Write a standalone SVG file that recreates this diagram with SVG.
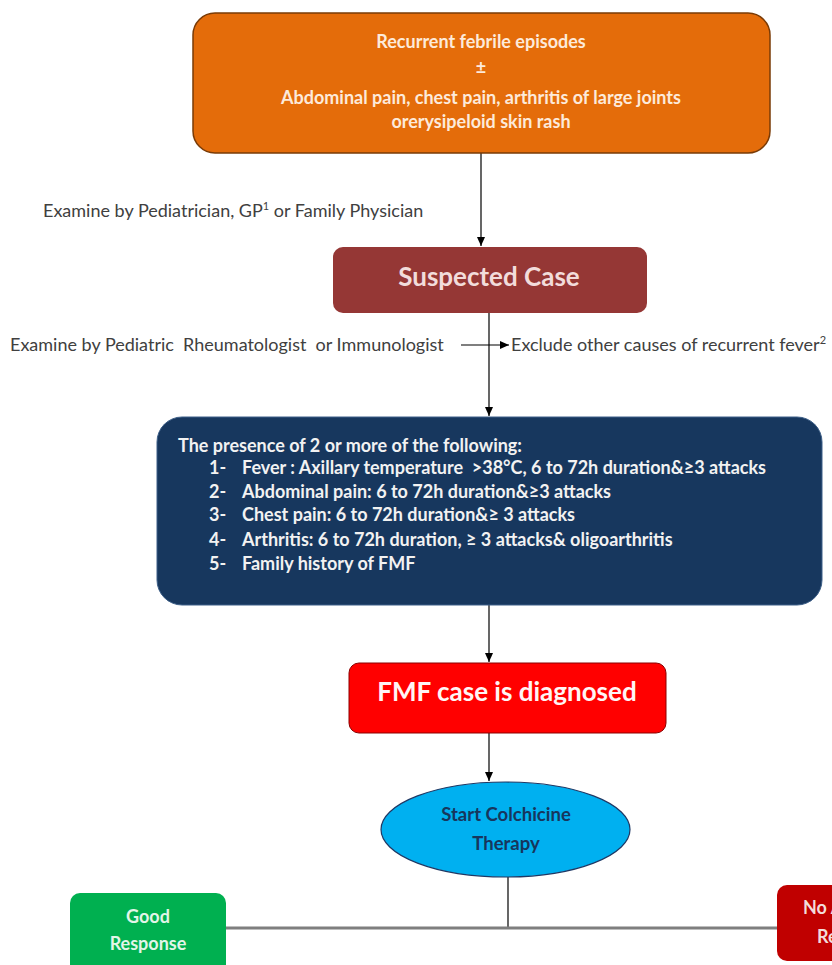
<svg xmlns="http://www.w3.org/2000/svg" width="832" height="965" viewBox="0 0 832 965">
<style>
text{font-family:Lato,"Liberation Sans",sans-serif;white-space:pre}
.lbl{font-size:18px;fill:#404040}
.b{font-weight:bold}
.c{text-anchor:middle}
.conn{stroke:#000;stroke-width:1.2;fill:none}
</style>
<defs>
<marker id="ah" markerUnits="userSpaceOnUse" markerWidth="10" markerHeight="10" refX="9" refY="4" orient="auto">
<path d="M0,0 L9,4 L0,8 Z" fill="#000"/>
</marker>
</defs>
<rect width="832" height="965" fill="#fff"/>
<g id="connectors">
<line class="conn" x1="481" y1="153" x2="481" y2="246" marker-end="url(#ah)"/>
<line class="conn" x1="489" y1="313" x2="489" y2="416" marker-end="url(#ah)"/>
<line class="conn" x1="461" y1="345" x2="509" y2="345" marker-end="url(#ah)"/>
<line class="conn" x1="489" y1="605" x2="489" y2="662" marker-end="url(#ah)"/>
<line class="conn" x1="489" y1="733" x2="489" y2="781" marker-end="url(#ah)"/>
<line class="conn" x1="508" y1="877" x2="508" y2="928"/>
<line x1="225" y1="928" x2="777" y2="928" stroke="#7f7f7f" stroke-width="3"/>
</g>
<g id="label-gp">
<text class="lbl" x="43" y="217">Examine by Pediatrician, GP<tspan font-size="11" dy="-7">1</tspan><tspan dy="7"> or Family Physician</tspan></text>
</g>
<g id="label-rheum">
<text class="lbl" x="10" y="351">Examine by Pediatric  Rheumatologist  or Immunologist</text>
</g>
<g id="label-exclude">
<text class="lbl" x="511" y="351">Exclude other causes of recurrent fever<tspan font-size="11" dy="-7">2</tspan></text>
</g>
<g id="n-symptoms">
<rect x="193" y="13" width="577" height="140" rx="22" fill="#e46c0a" stroke="#7a3b06" stroke-width="1.5"/>
<g class="b c" font-size="18" fill="#fdeada">
<text x="481" y="48">Recurrent febrile episodes</text>
<text x="481" y="74">±</text>
<text x="481" y="104">Abdominal pain, chest pain, arthritis of large joints</text>
<text x="481" y="128">orerysipeloid skin rash</text>
</g>
</g>
<g id="n-suspected">
<rect x="333" y="247" width="314" height="66" rx="10" fill="#953735"/>
<text class="b c" x="489" y="286" font-size="26" fill="#f2dcdb">Suspected Case</text>
</g>
<g id="n-criteria">
<rect x="157" y="417" width="665" height="188" rx="25" fill="#17375e" stroke="#3d5f88" stroke-width="1"/>
<g font-size="18" font-weight="bold" fill="#f2f2f2">
<text x="178" y="452">The presence of 2 or more of the following:</text>
<text x="209" y="474">1-</text><text x="242" y="474">Fever : Axillary temperature  &gt;38°C, 6 to 72h duration&amp;≥3 attacks</text>
<text x="209" y="498">2-</text><text x="242" y="498">Abdominal pain: 6 to 72h duration&amp;≥3 attacks</text>
<text x="209" y="521">3-</text><text x="242" y="521">Chest pain: 6 to 72h duration&amp;≥ 3 attacks</text>
<text x="209" y="546">4-</text><text x="242" y="546">Arthritis: 6 to 72h duration, ≥ 3 attacks&amp; oligoarthritis</text>
<text x="209" y="570">5-</text><text x="242" y="570">Family history of FMF</text>
</g>
</g>
<g id="n-diagnosed">
<rect x="349" y="663" width="317" height="70" rx="10" fill="#ff0000" stroke="#8b0000" stroke-width="1"/>
<text class="b c" x="507" y="701" font-size="26" fill="#fff5f5">FMF case is diagnosed</text>
</g>
<g id="n-colchicine">
<ellipse cx="505.5" cy="829.5" rx="124.5" ry="47.5" fill="#00b0f0" stroke="#1f3864" stroke-width="1.2"/>
<text class="b c" x="506" y="821" font-size="18.5" fill="#17365d">Start Colchicine</text>
<text class="b c" x="506" y="850" font-size="18.5" fill="#17365d">Therapy</text>
</g>
<g id="n-good">
<rect x="70" y="893" width="156" height="90" rx="10" fill="#00b050"/>
<text class="b c" x="148" y="923" font-size="18" fill="#e2f5e8">Good</text>
<text class="b c" x="148" y="950" font-size="18" fill="#e2f5e8">Response</text>
</g>
<g id="n-noresponse">
<rect x="777" y="885" width="90" height="76" rx="10" fill="#c00000"/>
<text class="b" x="803" y="914" font-size="18" fill="#f2dcdb">No A</text>
<text class="b" x="817" y="943" font-size="18" fill="#f2dcdb">Re</text>
</g>
</svg>
